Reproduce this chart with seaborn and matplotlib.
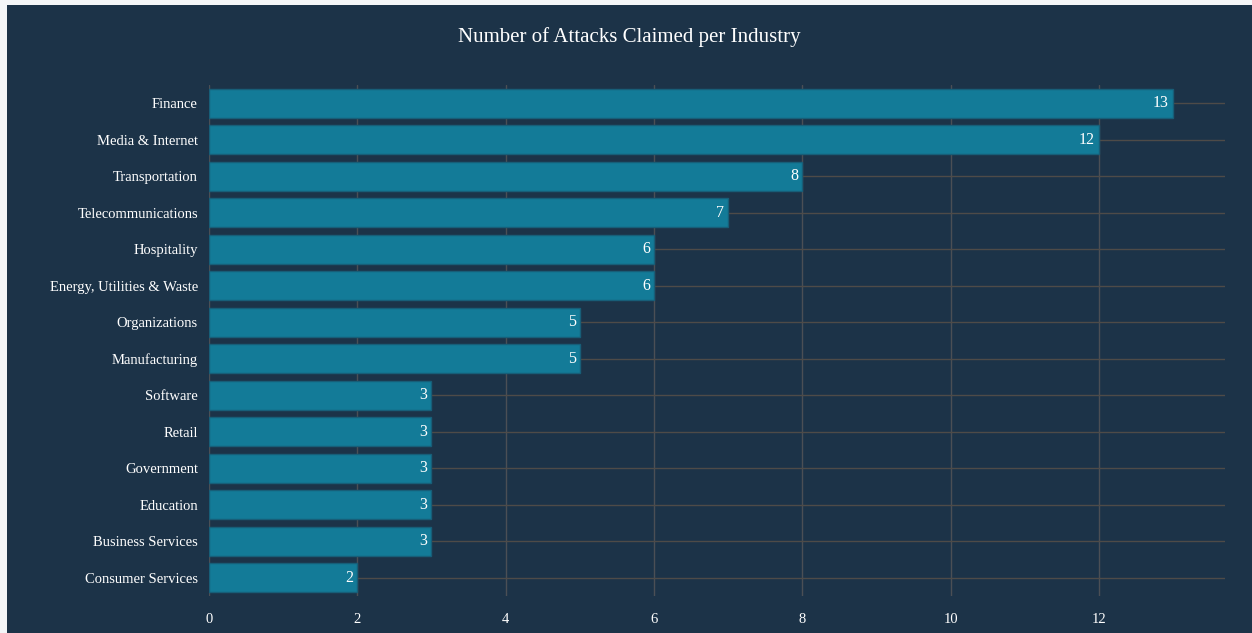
import matplotlib
matplotlib.use("Agg")
import matplotlib.pyplot as plt
import seaborn as sns
import pandas as pd

industries = ["Finance", "Media & Internet", "Transportation", "Telecommunications",
              "Hospitality", "Energy, Utilities & Waste", "Organizations", "Manufacturing",
              "Software", "Retail", "Government", "Education", "Business Services",
              "Consumer Services"]
attacks = [13, 12, 8, 7, 6, 6, 5, 5, 3, 3, 3, 3, 3, 2]

df = pd.DataFrame({"industry": industries, "attacks": attacks})

bg = "#1c3348"
sns.set_style("dark")
plt.rcParams["font.family"] = ["Liberation Serif", "DejaVu Serif"]

fig = plt.figure(figsize=(12.52, 6.33), dpi=100, facecolor="#f4f6f8")
# dark panel (thin light frame on top / left like the screenshot)
fig.patches.append(plt.Rectangle((7 / 1252, 0), 1, 1 - 5 / 633, transform=fig.transFigure,
                                 facecolor=bg, edgecolor="none", zorder=-10))

ax = fig.add_axes([209 / 1252, 1 - 596 / 633, (1225 - 209) / 1252, (596 - 85) / 633])
ax.set_facecolor(bg)

sns.barplot(data=df, x="attacks", y="industry", orient="h", color="#137b98",
            saturation=1, width=0.8, edgecolor="#175e78", linewidth=1, ax=ax, zorder=3)

ax.set_xlim(0, 13.7)
ax.set_ylim(13.5, -0.5)
ax.set_xticks([0, 2, 4, 6, 8, 10, 12])

for x in [0, 2, 4, 6, 8, 10, 12]:
    ax.axvline(x, color="#4b4f55", lw=1, zorder=1)
for i in range(len(industries)):
    ax.axhline(i, color="#4e4b48", lw=1, zorder=1)

labels = ax.bar_label(ax.containers[0], padding=-3, color="white", fontsize=11.5)
for t in labels:
    t.set_ha("right")
    t.set_va("center")

for s in ax.spines.values():
    s.set_visible(False)
ax.tick_params(axis="both", length=0, colors="white", labelsize=10.5)
ax.tick_params(axis="x", pad=12)
ax.tick_params(axis="y", pad=8)
ax.set_xlabel("")
ax.set_ylabel("")

fig.text(0.5 + 3 / 1252, 1 - 37 / 633, "Number of Attacks Claimed per Industry",
         color="white", fontsize=15, ha="center", va="center")

fig.savefig("out.png", dpi=100, facecolor=fig.get_facecolor())
